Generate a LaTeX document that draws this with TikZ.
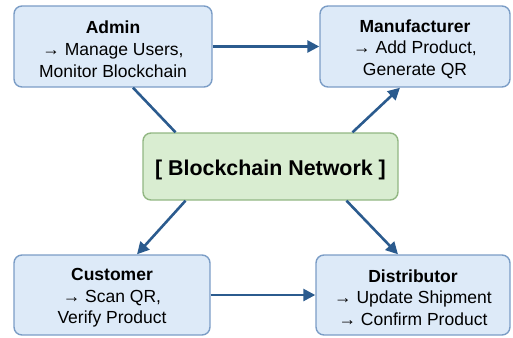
\documentclass[tikz,border=0pt]{standalone}
\usepackage{fontspec}
\setmainfont{Liberation Sans}
\usetikzlibrary{arrows.meta}
\definecolor{rolefill}{HTML}{DDEAF8}
\definecolor{roleline}{HTML}{7B9DC6}
\definecolor{corefill}{HTML}{D9EDD1}
\definecolor{coreline}{HTML}{92B783}
\definecolor{linkcol}{HTML}{2B5B8E}
% struts that push the text a little below the box centre
\newcommand\rolestrut{\rule{0pt}{18pt}}
\newcommand\corestrut{\rule{0pt}{21.5pt}}
\tikzset{
  rolebox/.style={draw=roleline, fill=rolefill, line width=1.4pt, rounded corners=8pt,
    align=center, inner sep=0pt, font=\fontsize{17.5}{21.8}\selectfont},
  corebox/.style={draw=coreline, fill=corefill, line width=1.4pt, rounded corners=8pt,
    align=center, inner sep=0pt, font=\fontsize{21.4}{24}\selectfont\bfseries},
  link/.style={draw=linkcol, line width=2.6pt},
  linkarrow/.style={link, -{Triangle[length=12pt,width=12pt]}}
}
\begin{document}
\begin{tikzpicture}[x=1pt,y=-1pt]
  \useasboundingbox (0,0) rectangle (513,337);
  % role boxes around the shared ledger
  \node[rolebox, minimum width=198pt, minimum height=81pt] (admin) at (113,46.5)
    {\rolestrut\textbf{Admin}\\→ Manage Users,\\Monitor Blockchain};
  \node[rolebox, minimum width=190pt, minimum height=81pt] (maker) at (415,46.5)
    {\rolestrut\textbf{Manufacturer}\\→ Add Product,\\Generate QR};
  \node[corebox, minimum width=255pt, minimum height=67pt] (chain) at (270.5,166.5)
    {\corestrut[ Blockchain Network ]};
  \node[rolebox, minimum width=196pt, minimum height=80pt] (customer) at (112,295)
    {\rolestrut\textbf{Customer}\\→ Scan QR,\\Verify Product};
  \node[rolebox, minimum width=194pt, minimum height=80pt] (dist) at (413,295)
    {\rolestrut\textbf{Distributor}\\→ Update Shipment\\→ Confirm Product};
  % connectors
  \draw[linkarrow] (admin.east) -- (maker.west);
  \draw[link] ([xshift=20pt]admin.south) -- ([xshift=-95pt]chain.north);
  \draw[linkarrow] ([xshift=82pt]chain.north) -- ([xshift=-15pt]maker.south);
  \draw[linkarrow] ([xshift=-85pt]chain.south) -- ([xshift=25pt]customer.north);
  \draw[linkarrow] ([xshift=76pt]chain.south) -- ([xshift=-15pt]dist.north);
  \draw[linkarrow] (customer.east) -- (dist.west);
\end{tikzpicture}
\end{document}
